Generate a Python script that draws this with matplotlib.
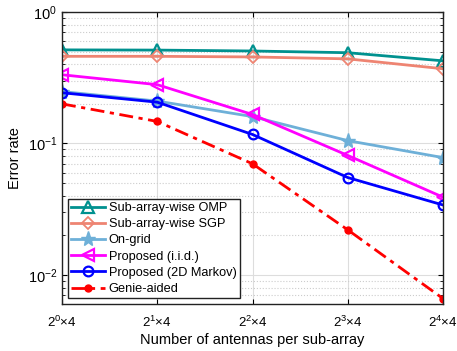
import matplotlib.pyplot as plt
import numpy as np

exponents = [0, 1, 2, 3, 4]
tick_labels = [r'$2^{%d}$×4' % k for k in exponents]

omp = [0.515, 0.513, 0.505, 0.49, 0.425]
sgp = [0.46, 0.46, 0.455, 0.44, 0.37]
on_grid = [0.248, 0.21, 0.16, 0.105, 0.078]
prop_iid = [0.333, 0.28, 0.166, 0.081, 0.039]
prop_markov = [0.243, 0.206, 0.117, 0.055, 0.034]
genie = [0.2, 0.147, 0.07, 0.022, 0.0066]

plt.rcParams['font.family'] = ['Liberation Sans', 'DejaVu Sans']
plt.rcParams['mathtext.fontset'] = 'custom'
plt.rcParams['mathtext.rm'] = 'Liberation Sans'

fig = plt.figure(figsize=(4.57, 3.51), dpi=100)
ax = fig.add_axes([62 / 457, 1 - 304 / 351, 381 / 457, 292 / 351])

lw = 2.0
ax.plot(exponents, omp, '-^', color='#00918F', lw=lw, ms=8, mfc='none', mew=1.6, label='Sub-array-wise OMP')
ax.plot(exponents, sgp, '-D', color='#EE8472', lw=lw, ms=6, mfc='none', mew=1.3, label='Sub-array-wise SGP')
ax.plot(exponents, on_grid, '-*', color='#6EB0D8', lw=lw, ms=11, label='On-grid')
ax.plot(exponents, prop_iid, '-<', color='#FF00FF', lw=lw, ms=8, mfc='none', mew=1.6, label='Proposed (i.i.d.)')
ax.plot(exponents, prop_markov, '-o', color='#0000FF', lw=lw, ms=7, mfc='none', mew=1.6, label='Proposed (2D Markov)')
ax.plot(exponents, genie, marker='o', color='#FF0000', lw=lw, ms=5, dashes=(5, 2, 1.5, 2), label='Genie-aided')

ax.set_yscale('log')
ax.set_ylim(0.006, 1)
ax.set_xlim(0, 4)
ax.set_xticks(exponents)
ax.set_xticklabels(tick_labels)
ax.tick_params(which='both', direction='in', top=True, right=True, labelsize=10.5)
ax.tick_params(axis='x', pad=8, labelsize=9.5)
ax.grid(True, which='major', color='#DDDDDD', lw=0.8)
ax.grid(True, which='minor', color='#CCCCCC', ls=':', lw=0.8)
ax.set_axisbelow(True)
for s in ax.spines.values():
    s.set_color('#222222')
    s.set_linewidth(1.0)

ax.set_xlabel('Number of antennas per sub-array', fontsize=10.5, labelpad=2)
ax.set_ylabel('Error rate', fontsize=10.5)

leg = ax.legend(loc='lower left', fontsize=9.2, fancybox=False, framealpha=1,
                edgecolor='#222222', borderaxespad=0.45, handlelength=2.7,
                labelspacing=0.33, borderpad=0.25, handletextpad=0.25)
leg.get_frame().set_linewidth(1.0)

fig.savefig('out.png', dpi=100)
